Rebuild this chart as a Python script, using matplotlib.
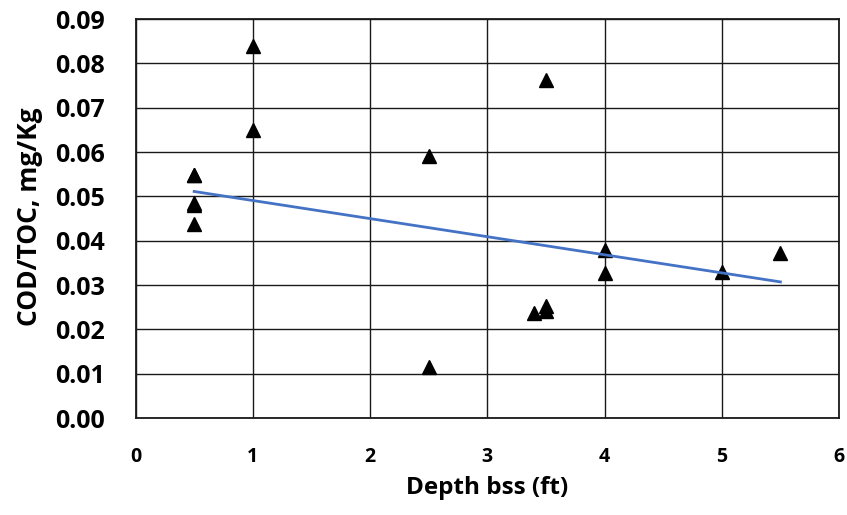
import matplotlib
matplotlib.use("Agg")
import matplotlib.pyplot as plt
from matplotlib.ticker import FixedLocator, FixedFormatter

# Sample depth below sediment surface (ft) and COD/TOC ratio (mg/Kg)
depth_ft = [0.5, 0.5, 0.5, 0.5, 0.5, 1.0, 1.0, 2.5, 2.5,
            3.4, 3.5, 3.5, 3.5, 4.0, 4.0, 5.0, 5.5]
cod_toc = [0.0548, 0.0485, 0.0480, 0.0438, 0.0548, 0.0838, 0.0650, 0.0591, 0.0116,
           0.0236, 0.0253, 0.0242, 0.0762, 0.0380, 0.0327, 0.0329, 0.0372]

# Linear trend line end points
trend_x = [0.5, 5.5]
trend_y = [0.0511, 0.0307]

x_ticks = [0, 1, 2, 3, 4, 5, 6]
y_ticks = [0.00, 0.01, 0.02, 0.03, 0.04, 0.05, 0.06, 0.07, 0.08, 0.09]
x_tick_labels = ['0', '1', '2', '3', '4', '5', '6']
y_tick_labels = ['0.00', '0.01', '0.02', '0.03', '0.04', '0.05', '0.06', '0.07', '0.08', '0.09']

plt.rcParams['font.family'] = ['Open Sans', 'DejaVu Sans']
plt.rcParams['font.weight'] = 'bold'
plt.rcParams['axes.labelweight'] = 'bold'

fig = plt.figure(figsize=(8.47, 5.15), dpi=100)
ax = fig.add_axes([0.160, 0.1883, 0.8306, 0.7748])

ax.set_xlim(0, 6)
ax.set_ylim(0, 0.09)
ax.xaxis.set_major_locator(FixedLocator(x_ticks))
ax.xaxis.set_major_formatter(FixedFormatter(x_tick_labels))
ax.yaxis.set_major_locator(FixedLocator(y_ticks))
ax.yaxis.set_major_formatter(FixedFormatter(y_tick_labels))

ax.grid(True, color='#1a1a1a', linewidth=1.0)
ax.set_axisbelow(True)
for s in ax.spines.values():
    s.set_color('#1a1a1a')
    s.set_linewidth(1.3)

ax.tick_params(axis='both', length=0, colors='black')
ax.tick_params(axis='x', labelsize=14, pad=21)
ax.tick_params(axis='y', labelsize=18, pad=22)

ax.plot(depth_ft, cod_toc, linestyle='none', marker='^', markersize=10.5,
        color='black', zorder=3, clip_on=False)
ax.plot(trend_x, trend_y, color='#4472C4', linewidth=2.0, zorder=4)

ax.set_xlabel('Depth bss (ft)', fontsize=17.5, fontweight='bold')
ax.set_ylabel('COD/TOC, mg/Kg', fontsize=19, fontweight='bold')
ax.xaxis.set_label_coords(0.5, -0.145)
ax.yaxis.set_label_coords(-0.131, 0.505)

fig.savefig('out.png', dpi=100)
